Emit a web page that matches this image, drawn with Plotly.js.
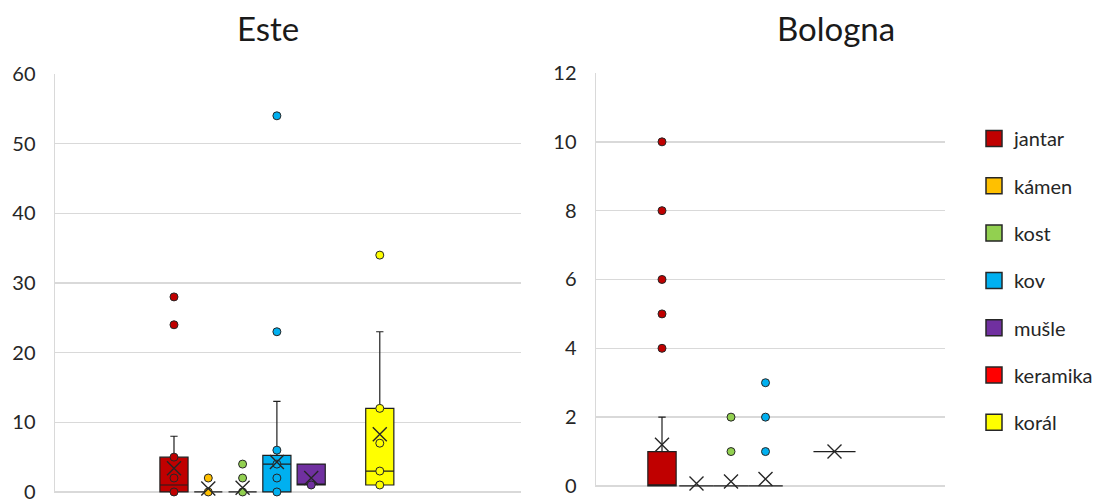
<!DOCTYPE html>
<html>
<head>
<meta charset="utf-8">
<script src="https://cdn.plot.ly/plotly-3.0.1.min.js"></script>
<style>html,body{margin:0;padding:0;background:#fff;}#chart{width:1104px;height:499px;}</style>
</head>
<body>
<div id="chart"></div>
<script>
// ---- data ----
const seriesNames = ['jantar', 'kámen', 'kost', 'kov', 'mušle', 'keramika', 'korál'];
const seriesColors = ['#C00000', '#FFC000', '#92D050', '#00B0F0', '#7030A0', '#FF0000', '#FFFF00'];

// Este
const esteQ1      = [0, 0, 0, 0, 1, null, 1];
const esteMedian  = [1, 0, 0, 4, 1, null, 3];
const esteQ3      = [5, 0, 0, 5.25, 4, null, 12];
const esteLow     = [0, 0, 0, 0, 1, null, 1];
const esteHigh    = [8, 0, 0, 13, 4, null, 23];
const esteMean    = [3.4, 0.5, 0.6, 4.3, 2, null, 8.3];
const esteInner   = [[0, 2, 5], [0], [0], [0, 2, 4, 6], [1], [], [1, 3, 7, 12]];
const esteOutlier = [[24, 28], [2], [2, 4], [23, 54], [], [], [34]];

// Bologna
const bolQ1      = [0, 0, 0, 0, null, 1, null];
const bolMedian  = [0, 0, 0, 0, null, 1, null];
const bolQ3      = [1, 0, 0, 0, null, 1, null];
const bolLow     = [0, 0, 0, 0, null, 1, null];
const bolHigh    = [2, 0, 0, 0, null, 1, null];
const bolMean    = [1.2, 0.07, 0.13, 0.2, null, 1, null];
const bolInner   = [[], [], [], [], [], [], []];
const bolOutlier = [[4, 5, 6, 8, 10], [], [1, 2], [1, 2, 3], [], [], []];

// ---- styling / layout config ----
const FONT = 'Lato, "Open Sans", sans-serif';
const TXT = '#262626';
const esteBoxWidth = [0.82, 0.82, 0.82, 0.82, 0.82, 0.82, 0.82];
const bolBoxWidth  = [0.82, 1.0, 1.0, 1.0, 1.0, 1.22, 1.0];

const traces = [];

function addPanel(xa, ya, q1, med, q3, lo, hi, mean, inner, outl, widths) {
  seriesNames.forEach((name, i) => {
    if (q1[i] === null) return;
    traces.push({
      type: 'box', xaxis: xa, yaxis: ya, name: name, showlegend: false,
      x: [i], q1: [q1[i]], median: [med[i]], q3: [q3[i]],
      lowerfence: [lo[i]], upperfence: [hi[i]],
      width: widths[i], whiskerwidth: 0.26, boxpoints: false,
      fillcolor: seriesColors[i],
      line: {color: '#1f1f1f', width: 1.2},
      hoverinfo: 'skip'
    });
  });
  seriesNames.forEach((name, i) => {
    const pts = inner[i].concat(outl[i]);
    if (!pts.length) return;
    traces.push({
      type: 'scatter', mode: 'markers', xaxis: xa, yaxis: ya, showlegend: false,
      x: pts.map(() => i), y: pts, cliponaxis: false,
      marker: {symbol: 'circle', size: 8, color: seriesColors[i], line: {color: '#262626', width: 1}},
      hoverinfo: 'skip'
    });
  });
  seriesNames.forEach((name, i) => {
    if (mean[i] === null) return;
    traces.push({
      type: 'scatter', mode: 'markers', xaxis: xa, yaxis: ya, showlegend: false,
      x: [i], y: [mean[i]], cliponaxis: false,
      marker: {symbol: 'x-thin', size: 14, color: '#262626', line: {color: '#262626', width: 1.4}},
      hoverinfo: 'skip'
    });
  });
}

addPanel('x', 'y', esteQ1, esteMedian, esteQ3, esteLow, esteHigh, esteMean, esteInner, esteOutlier, esteBoxWidth);
addPanel('x2', 'y2', bolQ1, bolMedian, bolQ3, bolLow, bolHigh, bolMean, bolInner, bolOutlier, bolBoxWidth);

// legend entries
seriesNames.forEach((name, i) => {
  traces.push({
    type: 'scatter', mode: 'markers', xaxis: 'x2', yaxis: 'y2', name: name,
    legendgroup: 'g' + i, showlegend: true,
    x: [null], y: [null],
    marker: {symbol: 'square', size: 16, color: seriesColors[i], line: {color: '#262626', width: 1.5}}
  });
});

const axY = {
  showline: true, linecolor: '#d9d9d9', linewidth: 1.5,
  showgrid: true, gridcolor: '#d9d9d9', gridwidth: 1.5,
  zeroline: false, ticks: '', ticklabelstandoff: 14, ticklabeloverflow: 'allow',
  tickfont: {family: FONT, size: 20, color: TXT}, layer: 'below traces'
};
const axX = {showline: false, showgrid: false, zeroline: false, showticklabels: false, ticks: '', fixedrange: true};

const layout = {
  width: 1104, height: 499,
  margin: {l: 0, r: 0, t: 0, b: 0},
  paper_bgcolor: '#fff', plot_bgcolor: '#fff',
  font: {family: FONT, color: TXT},
  showlegend: true,
  xaxis:  Object.assign({}, axX, {domain: [55 / 1104, 521 / 1104], range: [-3.469, 10.117]}),
  yaxis:  Object.assign({}, axY, {domain: [1 - 493 / 499, 1 - 74 / 499], range: [-0.15, 60], dtick: 10, anchor: 'x'}),
  xaxis2: Object.assign({}, axX, {domain: [596 / 1104, 945 / 1104], range: [-1.913, 8.203], anchor: 'y2'}),
  yaxis2: Object.assign({}, axY, {domain: [1 - 487 / 499, 1 - 73 / 499], range: [-0.03, 12], dtick: 2, anchor: 'x2'}),
  legend: {
    x: 974 / 1104, xanchor: 'left', y: 1 - 119 / 499, yanchor: 'top',
    font: {family: FONT, size: 20, color: TXT},
    traceorder: 'grouped', tracegroupgap: 18.3, itemsizing: 'trace',
    bgcolor: 'rgba(0,0,0,0)'
  },
  annotations: [
    {text: 'Este', xref: 'paper', yref: 'paper', x: 268 / 1104, y: 1 - 28 / 499, xanchor: 'center', yanchor: 'middle',
     showarrow: false, font: {family: FONT, size: 33, color: '#1a1a1a'}},
    {text: 'Bologna', xref: 'paper', yref: 'paper', x: 836 / 1104, y: 1 - 28 / 499, xanchor: 'center', yanchor: 'middle',
     showarrow: false, font: {family: FONT, size: 33, color: '#1a1a1a'}}
  ]
};

Plotly.newPlot('chart', traces, layout, {staticPlot: true, displayModeBar: false});
</script>
</body>
</html>
